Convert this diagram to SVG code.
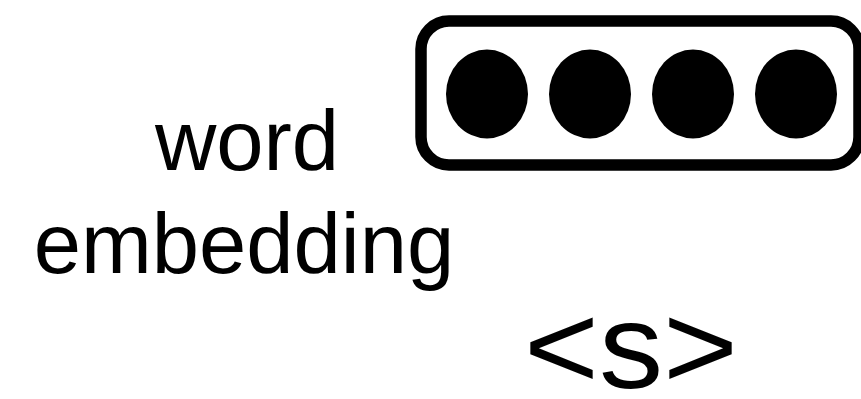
<svg xmlns="http://www.w3.org/2000/svg" width="861" height="399" viewBox="0 0 861 399">
  <style>
    .lbl { font-family: "Liberation Sans", Arial, Helvetica, sans-serif; fill: #000; text-anchor: middle; }
    .box { fill: #fff; stroke: #000; stroke-width: 11.5; }
    .dot { fill: #000; }
  </style>
  <rect width="861" height="399" fill="#fff"/>
  <g id="label-word-embedding">
    <text class="lbl" x="247" y="170" font-size="85">word</text>
    <text class="lbl" x="244" y="273" font-size="85">embedding</text>
  </g>
  <g id="embedding-vector">
    <rect class="box" x="421" y="21" width="438" height="144" rx="28" ry="28"/>
    <ellipse class="dot" cx="487" cy="94" rx="41" ry="44.5"/>
    <ellipse class="dot" cx="590" cy="94" rx="41" ry="44.5"/>
    <ellipse class="dot" cx="693" cy="94" rx="41" ry="44.5"/>
    <ellipse class="dot" cx="796" cy="94" rx="41" ry="44.5"/>
  </g>
  <g id="token-start">
    <text class="lbl" x="631" y="388" font-size="120" textLength="214" lengthAdjust="spacingAndGlyphs">&lt;s&gt;</text>
  </g>
  <g id="connectors"/>
</svg>
